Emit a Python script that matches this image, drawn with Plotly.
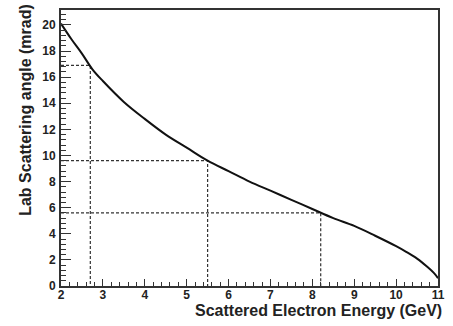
import plotly.graph_objects as go

# Scattered electron energy (GeV) and lab scattering angle (mrad)
energy = [2.0, 2.25, 2.5, 2.75, 3.0, 3.5, 4.0, 4.5, 5.0, 5.5, 6.0, 6.5, 7.0,
          7.5, 8.0, 8.5, 9.0, 9.5, 10.0, 10.25, 10.5, 10.75, 10.9, 11.0]
angle = [20.1, 18.9, 17.8, 16.6, 15.7, 14.1, 12.8, 11.6, 10.6, 9.6, 8.8, 8.0,
         7.3, 6.6, 5.9, 5.2, 4.6, 3.85, 3.05, 2.6, 2.1, 1.45, 1.0, 0.6]

# Reference points marked with dashed guide lines
mark_energy = [2.7, 5.5, 8.2]
mark_angle = [16.9, 9.6, 5.6]

# Major tick positions and labels
x_ticks = [2, 3, 4, 5, 6, 7, 8, 9, 10, 11]
y_ticks = [0, 2, 4, 6, 8, 10, 12, 14, 16, 18, 20]

x_range = [2, 11]
y_range = [0, 21.14]

fig = go.Figure()

# Dashed guide lines: horizontal from the axis to the curve, vertical down to zero
gx, gy = [], []
for e, a in zip(mark_energy, mark_angle):
    gx += [x_range[0], e, e, None]
    gy += [a, a, y_range[0], None]
fig.add_trace(go.Scatter(x=gx, y=gy, mode="lines",
                         line=dict(color="#333333", width=1.2, dash="3px,2px"),
                         hoverinfo="skip", showlegend=False))

fig.add_trace(go.Scatter(x=energy, y=angle, mode="lines",
                         line=dict(color="#111111", width=2, shape="spline"),
                         showlegend=False))

tick_font = dict(family="Liberation Sans", size=12, color="#222222")
title_font = dict(family="Liberation Sans", size=16, color="#222222")

fig.update_xaxes(range=x_range, tickvals=x_ticks,
                 ticktext=[f"<b>{v}</b>" for v in x_ticks],
                 ticks="inside", ticklen=7, tickwidth=1, tickcolor="#333333",
                 minor=dict(dtick=0.2, tick0=2, ticks="inside", ticklen=4,
                            tickcolor="#333333"),
                 showline=True, linecolor="#333333", linewidth=2, mirror=True,
                 showgrid=False, zeroline=False, tickfont=tick_font,
                 ticklabelstandoff=-3)
fig.update_yaxes(range=y_range, tickvals=y_ticks,
                 ticktext=[f"<b>{v}</b>" for v in y_ticks],
                 ticks="inside", ticklen=10, tickwidth=1, tickcolor="#333333",
                 minor=dict(dtick=0.4, tick0=0, ticks="inside", ticklen=5,
                            tickcolor="#333333"),
                 showline=True, linecolor="#333333", linewidth=2, mirror=True,
                 showgrid=False, zeroline=False, tickfont=tick_font,
                 ticklabelstandoff=1)

fig.add_annotation(text="<b>Scattered Electron Energy (GeV)</b>", xref="paper",
                   yref="paper", x=1.015, y=-0.09, xanchor="right", yanchor="middle",
                   showarrow=False, font=title_font)
fig.add_annotation(text="<b>Lab Scattering angle (mrad)</b>", xref="paper",
                   yref="paper", x=-0.094, y=1.028, xanchor="center", yanchor="top",
                   textangle=-90, showarrow=False, font=title_font)

fig.update_layout(width=453, height=326, margin=dict(l=61, r=9, t=8, b=40),
                  paper_bgcolor="white", plot_bgcolor="white")

fig.write_html("out.html")
